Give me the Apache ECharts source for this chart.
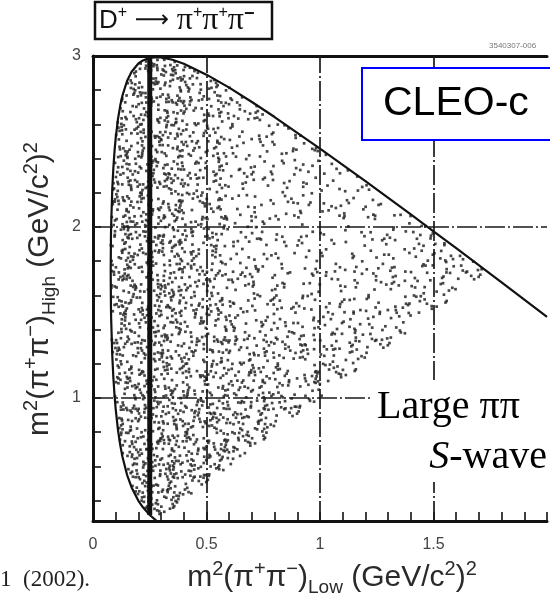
<!DOCTYPE html>
<html>
<head>
<meta charset="utf-8">
<script src="https://cdn.jsdelivr.net/npm/echarts@6/dist/echarts.min.js"></script>
<style>
  html, body { margin: 0; padding: 0; background: #ffffff; }
  #chart { width: 550px; height: 598px; }
</style>
</head>
<body>
<div id="chart"></div>
<script>
// Kinematic boundary of the D+ -> pi+ pi+ pi- Dalitz plot, (m2 low, m2 high) in GeV^2.
// Lower branch, running from the bottom edge up the left side.
const boundaryLower = [
  [0.28, 0.281], [0.25, 0.315], [0.22, 0.360], [0.20, 0.398], [0.17, 0.476],
  [0.15, 0.550], [0.13, 0.654], [0.12, 0.724], [0.11, 0.813], [0.10, 0.934],
  [0.095, 1.013], [0.09, 1.112], [0.085, 1.245], [0.08, 1.463], [0.079, 1.539],
  [0.078, 1.738]
];
// Upper branch, over the top and down to the right.
const boundaryUpper = [
  [0.079, 1.936], [0.08, 2.011], [0.085, 2.224], [0.09, 2.352], [0.095, 2.446],
  [0.10, 2.520], [0.11, 2.631], [0.12, 2.710], [0.13, 2.770], [0.15, 2.854],
  [0.17, 2.908], [0.20, 2.956], [0.22, 2.974], [0.25, 2.989], [0.28, 2.993],
  [0.30, 2.992], [0.35, 2.978], [0.40, 2.955], [0.50, 2.891], [0.60, 2.815],
  [0.70, 2.731], [0.80, 2.643], [1.00, 2.458], [1.20, 2.268], [1.40, 2.073],
  [1.50, 1.974], [1.60, 1.876], [1.80, 1.676], [2.00, 1.474]
];

// K0s -> pi+ pi- band at m2 low ~ 0.25
const ksBand = [[0.25, 0.315], [0.25, 2.989]];

// Event density: events per 0.2 x 0.2 GeV^2 bin.
// Rows run from m2 high = 3.0 downward, columns from m2 low = 0 upward.
const binSize = 0.2;
const binTop = 3.0;
const eventDensity = [
  [62, 66, 46, 34,  0,  0,  0,  0,  0],  // 2.8 - 3.0
  [62, 62, 42, 28, 24,  0,  0,  0,  0],  // 2.6 - 2.8
  [60, 60, 40, 24, 20, 20,  0,  0,  0],  // 2.4 - 2.6
  [60, 60, 38, 22, 18, 17, 18,  0,  0],  // 2.2 - 2.4
  [60, 60, 38, 20, 17, 15, 17, 24,  0],  // 2.0 - 2.2
  [60, 60, 40, 21, 17, 15, 18, 27, 32],  // 1.8 - 2.0
  [60, 60, 42, 26, 20, 18, 21, 27, 32],  // 1.6 - 1.8
  [58, 60, 45, 33, 27, 24, 27, 33,  0],  // 1.4 - 1.6
  [58, 58, 48, 39, 33, 33, 36,  0,  0],  // 1.2 - 1.4
  [58, 58, 51, 45, 39, 39,  0,  0,  0],  // 1.0 - 1.2
  [60, 60, 57, 51, 42,  0,  0,  0,  0],  // 0.8 - 1.0
  [63, 69, 63, 54,  0,  0,  0,  0,  0],  // 0.6 - 0.8
  [66, 72, 63,  0,  0,  0,  0,  0,  0],  // 0.4 - 0.6
  [60, 69,  0,  0,  0,  0,  0,  0,  0]   // 0.2 - 0.4
];

// Fixed stipple layout for placing events inside a quarter bin.
const stipple = [
  [.07,.13],[.58,.71],[.33,.42],[.86,.22],[.19,.88],[.71,.49],[.44,.05],[.93,.79],
  [.12,.57],[.52,.31],[.27,.69],[.79,.94],[.03,.36],[.64,.12],[.38,.83],[.89,.51],
  [.22,.26],[.48,.61],[.75,.03],[.15,.74],[.97,.38],[.56,.90],[.31,.17],[.68,.66],
  [.09,.97],[.42,.47],[.83,.58],[.24,.08],[.61,.24],[.91,.11],[.36,.99],[.74,.35],
  [.05,.64],[.51,.77],[.17,.44],[.87,.67],[.46,.19],[.29,.55],[.66,.86],[.99,.92],
  [.11,.30],[.59,.53],[.35,.72],[.81,.44],[.01,.82],[.54,.04],[.25,.93],[.77,.16],
  [.40,.34],[.92,.63],[.14,.01],[.69,.77],[.47,.88],[.21,.49],[.84,.30],[.62,.98],
  [.32,.28],[.06,.48],[.73,.60],[.43,.66],[.96,.52],[.18,.16],[.57,.42],[.88,.86]
];
const stippleSteps = [1, 3, 5, 7, 9, 11, 13, 15, 17, 19, 21, 23, 25, 27, 29, 31];

// Axes
const xTickValues = [0, 0.5, 1, 1.5];
const xTickLabels = ['0', '0.5', '1', '1.5'];
const yTickValues = [1, 2, 3];
const yTickLabels = ['1', '2', '3'];
const yMinorTicks = [0.4, 0.6, 0.8, 1.0, 1.2, 1.4, 1.6, 1.8, 2.0, 2.2, 2.4, 2.6, 2.8];
const gridX = [0.5, 1, 1.5];
const gridY = [1, 2];

// Closed outline of the kinematic region, used to keep events inside it.
const regionPolygon = boundaryLower.concat(boundaryUpper).concat([[2.0, 0.2], [0.28, 0.2]]);

function insidePolygon(x, y, poly) {
  let inside = false;
  for (let i = 0, j = poly.length - 1; i < poly.length; j = i++) {
    const xi = poly[i][0], yi = poly[i][1], xj = poly[j][0], yj = poly[j][1];
    if ((yi > y) !== (yj > y) && x < (xj - xi) * (y - yi) / (yj - yi) + xi) inside = !inside;
  }
  return inside;
}

function insideRegion(x, y) {
  return x <= y && y >= 0.28 && insidePolygon(x, y, regionPolygon);
}

// Spread each bin's events over its four quarters using the stipple layout.
const events = [];
const half = binSize / 2;
eventDensity.forEach((row, r) => {
  row.forEach((count, c) => {
    for (let q = 0; q < 4; q++) {
      const n = Math.floor((count + q) / 4);
      const k = (r * row.length + c) * 4 + q;
      const start = (k * 29) % stipple.length;
      const step = stippleSteps[k % stippleSteps.length];
      const flip = (k * 5) % 8;
      const x0 = c * binSize + (q % 2) * half;
      const y0 = binTop - (r + 1) * binSize + Math.floor(q / 2) * half;
      for (let i = 0; i < n; i++) {
        const p = stipple[(start + i * step) % stipple.length];
        let u = p[0], v = p[1];
        if (flip & 1) u = 1 - u;
        if (flip & 2) v = 1 - v;
        if (flip & 4) { const t = u; u = v; v = t; }
        const x = x0 + u * half, y = y0 + v * half;
        if (insideRegion(x, y)) events.push([x, y]);
      }
    }
  });
});

function labelFor(values, labels, v) {
  const k = values.findIndex(t => Math.abs(t - v) < 1e-6);
  return k >= 0 ? labels[k] : '';
}

const sans = 'Liberation Sans, Arial, sans-serif';
const serif = 'Liberation Serif, Times New Roman, serif';

const axisRich = {
  n: { fontSize: 30, fontFamily: sans, fill: '#2a2a2a', lineHeight: 38 },
  sup: { fontSize: 20, fontFamily: sans, fill: '#2a2a2a', verticalAlign: 'top', lineHeight: 38 },
  sub: { fontSize: 19, fontFamily: sans, fill: '#2a2a2a', verticalAlign: 'bottom', lineHeight: 38 }
};

const chart = echarts.init(document.getElementById('chart'));

chart.setOption({
  animation: false,
  backgroundColor: '#ffffff',
  grid: { left: 93, top: 56, width: 520, height: 465 },
  xAxis: [
    {
      type: 'value', min: 0, max: 2, interval: 0.1, position: 'bottom',
      axisLine: { show: true, onZero: false, lineStyle: { color: '#111', width: 3 } },
      axisTick: { show: true, inside: true, length: 9, lineStyle: { color: '#111', width: 1.6 } },
      axisLabel: {
        margin: 16, color: '#444', fontSize: 16, fontFamily: sans,
        formatter: v => labelFor(xTickValues, xTickLabels, v)
      },
      splitLine: { show: false }
    },
    {
      type: 'value', min: 0, max: 2, position: 'top',
      axisLine: { show: true, onZero: false, lineStyle: { color: '#111', width: 3 } },
      axisTick: { show: false }, axisLabel: { show: false }, splitLine: { show: false }
    }
  ],
  yAxis: {
    type: 'value', min: 0.28, max: 3,
    axisLine: { show: true, onZero: false, lineStyle: { color: '#111', width: 3 } },
    axisTick: { show: true, inside: true, length: 8, customValues: yMinorTicks,
                lineStyle: { color: '#111', width: 1.6 } },
    axisLabel: {
      margin: 12, color: '#444', fontSize: 16, fontFamily: sans,
      customValues: yTickValues,
      formatter: v => labelFor(yTickValues, yTickLabels, v)
    },
    splitLine: { show: false }
  },
  series: [
    {
      type: 'scatter', data: events, symbol: 'rect', symbolSize: 2.7,
      itemStyle: { color: '#262626', opacity: 0.85 }, silent: true, z: 2
    },
    {
      type: 'line', data: boundaryLower.concat(boundaryUpper), showSymbol: false,
      lineStyle: { color: '#111', width: 2.2 }, silent: true, z: 4,
      markLine: {
        silent: true, symbol: ['none', 'none'], label: { show: false },
        lineStyle: { color: '#1a1a1a', width: 1.7, type: [20, 3, 2, 3] },
        data: gridX.map(v => ({ xAxis: v })).concat(gridY.map(v => ({ yAxis: v })))
      }
    },
    {
      type: 'line', data: ksBand, showSymbol: false,
      lineStyle: { color: '#111', width: 5 }, silent: true, z: 4
    }
  ],
  graphic: [
    // reaction label
    {
      type: 'rect', z: 20, shape: { x: 95, y: 2, width: 177, height: 37 },
      style: { fill: '#fff', stroke: '#111', lineWidth: 2.5 }
    },
    {
      type: 'text', z: 21, x: 99, y: 21,
      style: {
        text: '{n|D}{s|+}{a| ⟶ }{p|π}{s|+}{p|π}{s|+}{p|π}{m|−}',
        textVerticalAlign: 'middle',
        rich: {
          n: { fontSize: 26, fontFamily: sans, fill: '#111', lineHeight: 32 },
          a: { fontSize: 24, fontFamily: 'DejaVu Sans, sans-serif', fill: '#111', lineHeight: 32 },
          p: { fontSize: 32, fontFamily: serif, fill: '#111', lineHeight: 32 },
          s: { fontSize: 16, fontFamily: sans, fill: '#111', verticalAlign: 'top', lineHeight: 32 },
          m: { fontSize: 18, fontWeight: 'bold', fontFamily: sans, fill: '#111', verticalAlign: 'top', lineHeight: 32 }
        }
      }
    },
    // figure id
    {
      type: 'text', z: 21, x: 489, y: 46,
      style: { text: '3540307-006', fontSize: 8, fontFamily: sans, fill: '#777', textVerticalAlign: 'middle' }
    },
    // experiment label
    {
      type: 'rect', z: 20, shape: { x: 362, y: 68, width: 200, height: 72 },
      style: { fill: '#fff', stroke: '#0000ff', lineWidth: 2 }
    },
    {
      type: 'text', z: 21, x: 383, y: 104,
      style: { text: 'CLEO-c', fontSize: 41, fontFamily: sans, fill: '#000', textVerticalAlign: 'middle' }
    },
    // annotation
    {
      type: 'rect', z: 20, shape: { x: 373, y: 380, width: 190, height: 102 },
      style: { fill: '#fff' }
    },
    {
      type: 'text', z: 21, x: 377, y: 407,
      style: { text: 'Large ππ', fontSize: 40, fontFamily: serif, fill: '#000', textVerticalAlign: 'middle' }
    },
    {
      type: 'text', z: 21, x: 547, y: 457,
      style: {
        text: '{i|S}{n|-wave}', textAlign: 'right', textVerticalAlign: 'middle',
        rich: {
          i: { fontSize: 40, fontFamily: serif, fontStyle: 'italic', fill: '#000' },
          n: { fontSize: 40, fontFamily: serif, fill: '#000' }
        }
      }
    },
    // axis titles
    {
      type: 'text', z: 21, x: 40, y: 289, rotation: Math.PI / 2,
      style: {
        text: '{n|m}{sup|2}{n|(π}{sup|+}{n|π}{sup|−}{n|)}{sub|High}{n| (GeV/c}{sup|2}{n|)}{sup|2}',
        textAlign: 'center', textVerticalAlign: 'middle', rich: axisRich
      }
    },
    {
      type: 'text', z: 21, x: 332, y: 578,
      style: {
        text: '{n|m}{sup|2}{n|(π}{sup|+}{n|π}{sup|−}{n|)}{sub|Low}{n| (GeV/c}{sup|2}{n|)}{sup|2}',
        textAlign: 'center', textVerticalAlign: 'middle', rich: axisRich
      }
    },
    // citation fragment at the lower left
    {
      type: 'text', z: 21, x: 0, y: 580,
      style: { text: '1  (2002).', fontSize: 23, fontFamily: serif, fill: '#222', textVerticalAlign: 'middle' }
    }
  ]
});
</script>
</body>
</html>
